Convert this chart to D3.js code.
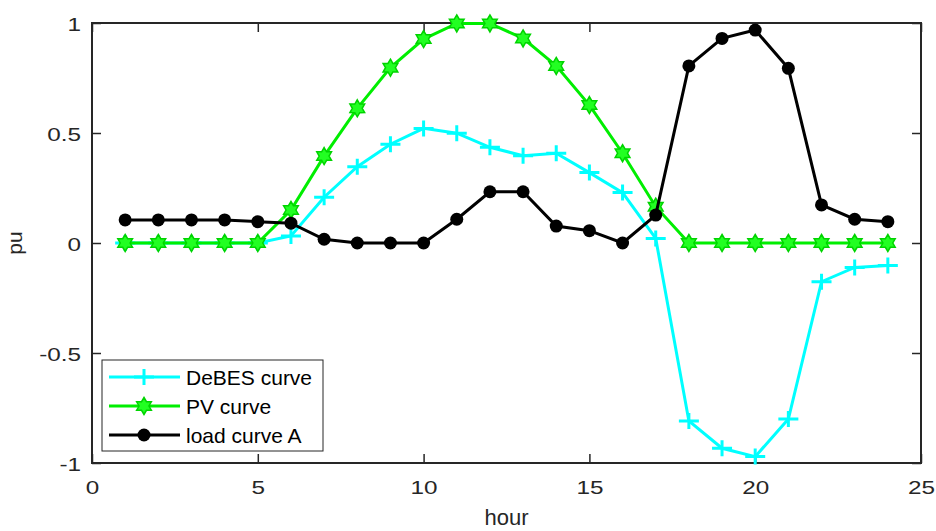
<!DOCTYPE html>
<html>
<head>
<meta charset="utf-8">
<script src="https://cdn.jsdelivr.net/npm/d3@7"></script>
<style>
  html, body { margin: 0; padding: 0; background: #fff; }
  svg { display: block; font-family: "Liberation Sans", Arial, sans-serif; }
</style>
</head>
<body>
<svg id="chart" width="936" height="531"></svg>
<script>
// Hourly profiles in per-unit
const hours = [1,2,3,4,5,6,7,8,9,10,11,12,13,14,15,16,17,18,19,20,21,22,23,24];
const debes = [0,0,0,0,0,0.032,0.208,0.347,0.449,0.521,0.499,0.435,0.397,0.408,0.320,0.229,0.021,-0.809,-0.933,-0.971,-0.800,-0.176,-0.111,-0.102];
const pv    = [0,0,0,0,0,0.150,0.395,0.612,0.797,0.927,0.998,0.998,0.930,0.805,0.627,0.408,0.165,0,0,0,0,0,0,0];
const loadA = [0.105,0.105,0.105,0.105,0.097,0.090,0.017,0,0,0,0.108,0.233,0.233,0.077,0.056,0,0.127,0.805,0.930,0.968,0.794,0.173,0.108,0.097];

const xTicks = [0,5,10,15,20,25];
const yTicks = [-1,-0.5,0,0.5,1];
const seriesNames = ["DeBES curve","PV curve","load curve A"];

const svg = d3.select("#chart");
const plotLeft = 92, plotRight = 921, plotTop = 23, plotBottom = 463;
const axisColor = "#262626";
const tickStretch = 1.35;

const x = d3.scaleLinear().domain([0,25]).range([plotLeft,plotRight]);
const y = d3.scaleLinear().domain([-1,1]).range([plotBottom,plotTop]);

// plain hyphen-minus labels
const fmt = d => String(d);

function styleAxis(g, labels) {
  g.select(".domain").remove();
  g.selectAll(".tick line").attr("stroke", axisColor).attr("stroke-width", 1.5);
  if (!labels) g.selectAll(".tick text").remove();
  else g.selectAll(".tick text").attr("fill", axisColor).attr("font-size", 18);
}

// bottom axis with labels
svg.append("g").attr("transform", `translate(0,${plotBottom})`)
  .call(d3.axisBottom(x).tickValues(xTicks).tickFormat(fmt).tickSize(-9).tickSizeOuter(0).tickPadding(18))
  .call(g => styleAxis(g, true))
  .call(g => g.selectAll(".tick text").attr("transform", `scale(${tickStretch},1)`));

// top axis ticks only
svg.append("g").attr("transform", `translate(0,${plotTop})`)
  .call(d3.axisTop(x).tickValues(xTicks).tickSize(-9).tickSizeOuter(0))
  .call(g => styleAxis(g, false));

// left axis with labels
svg.append("g").attr("transform", `translate(${plotLeft},0)`)
  .call(d3.axisLeft(y).tickValues(yTicks).tickFormat(fmt).tickSize(-9).tickSizeOuter(0).tickPadding(11))
  .call(g => styleAxis(g, true))
  .call(g => g.selectAll(".tick text")
    .attr("x", -11 / tickStretch).attr("dy", "0.42em")
    .attr("transform", `scale(${tickStretch},1)`));

// right axis ticks only
svg.append("g").attr("transform", `translate(${plotRight},0)`)
  .call(d3.axisRight(y).tickValues(yTicks).tickSize(-9).tickSizeOuter(0))
  .call(g => styleAxis(g, false));

// frame
svg.append("rect")
  .attr("x", plotLeft).attr("y", plotTop)
  .attr("width", plotRight - plotLeft).attr("height", plotBottom - plotTop)
  .attr("fill", "none").attr("stroke", axisColor).attr("stroke-width", 2);

// axis titles
svg.append("text").attr("x", (plotLeft + plotRight) / 2).attr("y", 525)
  .attr("text-anchor", "middle").attr("font-size", 22).attr("fill", axisColor).text("hour");
svg.append("text").attr("transform", `translate(22,${y(0)}) rotate(-90)`)
  .attr("text-anchor", "middle").attr("font-size", 21).attr("fill", axisColor).text("pu");

// marker shapes
const plusPath = "M-10,0H10M0,-8V8";
function hexagram(r) {
  const pts = [];
  for (let i = 0; i < 12; i++) {
    const a = -Math.PI / 2 + i * Math.PI / 6;
    const rr = i % 2 === 0 ? r : r * 0.58;
    pts.push([rr * Math.cos(a), rr * Math.sin(a)]);
  }
  return "M" + pts.map(p => p.join(",")).join("L") + "Z";
}
const hexPath = hexagram(8.5);

const line = d3.line().x((d, i) => x(hours[i])).y(d => y(d));

const cyan = "#00ffff", green = "#00ee00", black = "#000000";

// DeBES
svg.append("path").datum(debes).attr("d", line)
  .attr("fill", "none").attr("stroke", cyan).attr("stroke-width", 3);
svg.append("g").selectAll("path").data(debes).join("path")
  .attr("transform", (d, i) => `translate(${x(hours[i])},${y(d)})`)
  .attr("d", plusPath).attr("stroke", cyan).attr("stroke-width", 3).attr("fill", "none");

// PV
svg.append("path").datum(pv).attr("d", line)
  .attr("fill", "none").attr("stroke", green).attr("stroke-width", 3);
svg.append("g").selectAll("path").data(pv).join("path")
  .attr("transform", (d, i) => `translate(${x(hours[i])},${y(d)})`)
  .attr("d", hexPath).attr("fill", "#22ff22").attr("stroke", "#00d400").attr("stroke-width", 1.5);

// load
svg.append("path").datum(loadA).attr("d", line)
  .attr("fill", "none").attr("stroke", black).attr("stroke-width", 3);
svg.append("g").selectAll("circle").data(loadA).join("circle")
  .attr("cx", (d, i) => x(hours[i])).attr("cy", d => y(d)).attr("r", 6.5).attr("fill", black);

// legend
const lg = svg.append("g");
lg.append("rect").attr("x", 102).attr("y", 360).attr("width", 221).attr("height", 91)
  .attr("fill", "#fff").attr("stroke", axisColor).attr("stroke-width", 1);
const colors = [cyan, green, black];
const rowsY = [377, 406, 435];
seriesNames.forEach((name, k) => {
  const yy = rowsY[k];
  lg.append("line").attr("x1", 109).attr("x2", 180).attr("y1", yy).attr("y2", yy)
    .attr("stroke", colors[k]).attr("stroke-width", 3);
  const mk = lg.append("g").attr("transform", `translate(144,${yy})`);
  if (k === 0) mk.append("path").attr("d", plusPath).attr("stroke", cyan).attr("stroke-width", 3);
  if (k === 1) mk.append("path").attr("d", hexPath).attr("fill", "#22ff22").attr("stroke", "#00d400").attr("stroke-width", 1.5);
  if (k === 2) mk.append("circle").attr("r", 6.5).attr("fill", black);
  lg.append("text").attr("x", 186).attr("y", yy).attr("dy", "0.36em")
    .attr("font-size", 21).attr("fill", "#000").text(name);
});
</script>
</body>
</html>
